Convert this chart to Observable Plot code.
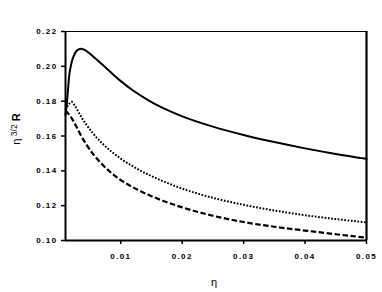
<!DOCTYPE html>
<html>
<head>
<meta charset="utf-8">
<script src="https://cdn.jsdelivr.net/npm/d3@7"></script>
<script src="https://cdn.jsdelivr.net/npm/@observablehq/plot@0.6"></script>
<style>
  html, body { margin: 0; padding: 0; background: #fff; }
  #chart svg { display: block; }
</style>
</head>
<body>
<div id="chart"></div>
<script>
const eta = [0.001, 0.0013, 0.0016, 0.002, 0.0025, 0.003, 0.0036, 0.0044, 0.0055, 0.007, 0.0085, 0.01, 0.012, 0.0145, 0.0165, 0.02, 0.025, 0.03, 0.035, 0.04, 0.045, 0.05];
const solid  = [0.172, 0.182, 0.1945, 0.2024, 0.2072, 0.2095, 0.2101, 0.2088, 0.2057, 0.2010, 0.1962, 0.1915, 0.1861, 0.1805, 0.1767, 0.1713, 0.1654, 0.1606, 0.1565, 0.1529, 0.1497, 0.1469];
const dotted = [0.175, 0.177, 0.1785, 0.1796, 0.1775, 0.1745, 0.1708, 0.1665, 0.1614, 0.1557, 0.1510, 0.1470, 0.1425, 0.1378, 0.1346, 0.1298, 0.1245, 0.1205, 0.1172, 0.1145, 0.1123, 0.1104];
const dashed = [0.1745, 0.1735, 0.1722, 0.1703, 0.1672, 0.1638, 0.1598, 0.1551, 0.1496, 0.1436, 0.1387, 0.1347, 0.1305, 0.1262, 0.1233, 0.1190, 0.1142, 0.1106, 0.1079, 0.1057, 0.1036, 0.1016];
const xTicks = [0.01, 0.02, 0.03, 0.04, 0.05];
const yTicks = [0.10, 0.12, 0.14, 0.16, 0.18, 0.20, 0.22];

const rows = (ys) => eta.map((e, i) => ({eta: e, v: ys[i]}));

const fontFam = "'Liberation Sans', Arial, sans-serif";

const plot = Plot.plot({
  width: 382,
  height: 292,
  marginLeft: 65,
  marginRight: 16,
  marginTop: 31,
  marginBottom: 52,
  style: {fontFamily: fontFam, fontSize: "8px", fontWeight: "bold", background: "#fff", color: "#000"},
  x: {domain: [0.001, 0.05], label: null},
  y: {domain: [0.10, 0.22], label: null},
  marks: [
    Plot.ruleY([0.22], {stroke: "#000", strokeWidth: 1}),
    Plot.ruleX([0.05], {stroke: "#000", strokeWidth: 2.2}),
    Plot.line(rows(solid), {x: "eta", y: "v", stroke: "#000", strokeWidth: 2, curve: "monotone-x"}),
    Plot.line(rows(dotted), {x: "eta", y: "v", stroke: "#000", strokeWidth: 2, strokeDasharray: "1.7,1.6", strokeLinecap: "butt", curve: "monotone-x"}),
    Plot.line(rows(dashed), {x: "eta", y: "v", stroke: "#000", strokeWidth: 2.2, strokeDasharray: "5.5,2.5", strokeLinecap: "butt", curve: "monotone-x"}),
    Plot.ruleX([0.001], {stroke: "#000", strokeWidth: 2}),
    Plot.ruleY([0.10], {stroke: "#000", strokeWidth: 2}),
    Plot.axisX({ticks: xTicks, tickFormat: d3.format(".2f"), tickSize: 4, tickPadding: 9, label: null, fontWeight: "bold"}),
    Plot.axisY({ticks: yTicks, tickFormat: d3.format(".2f"), tickSize: 4, tickPadding: 4, label: null, fontWeight: "bold"})
  ]
});

const svg = d3.select(plot);
svg.selectAll("[aria-label='x-axis tick label'] text, [aria-label='y-axis tick label'] text")
  .style("letter-spacing", "1.4px");
svg.selectAll("[aria-label='x-axis tick'], [aria-label='y-axis tick']")
  .attr("stroke-width", 1.5);

// x axis title
svg.append("text")
  .attr("x", 214).attr("y", 286)
  .attr("text-anchor", "middle")
  .style("font-family", fontFam).style("font-size", "11px").style("font-weight", "normal")
  .text("η");

// y axis title with superscript
const yt = svg.append("text")
  .attr("transform", "translate(19.5,129) rotate(-90)")
  .attr("text-anchor", "middle")
  .style("font-family", fontFam).style("font-size", "11px").style("font-weight", "bold");
yt.append("tspan").style("font-weight", "normal").text("η");
yt.append("tspan").attr("dy", "-3").style("font-size", "8.5px").style("font-weight", "normal").text(" 3/2");
yt.append("tspan").attr("dy", "3").text(" R");

document.getElementById("chart").appendChild(plot);
</script>
</body>
</html>
